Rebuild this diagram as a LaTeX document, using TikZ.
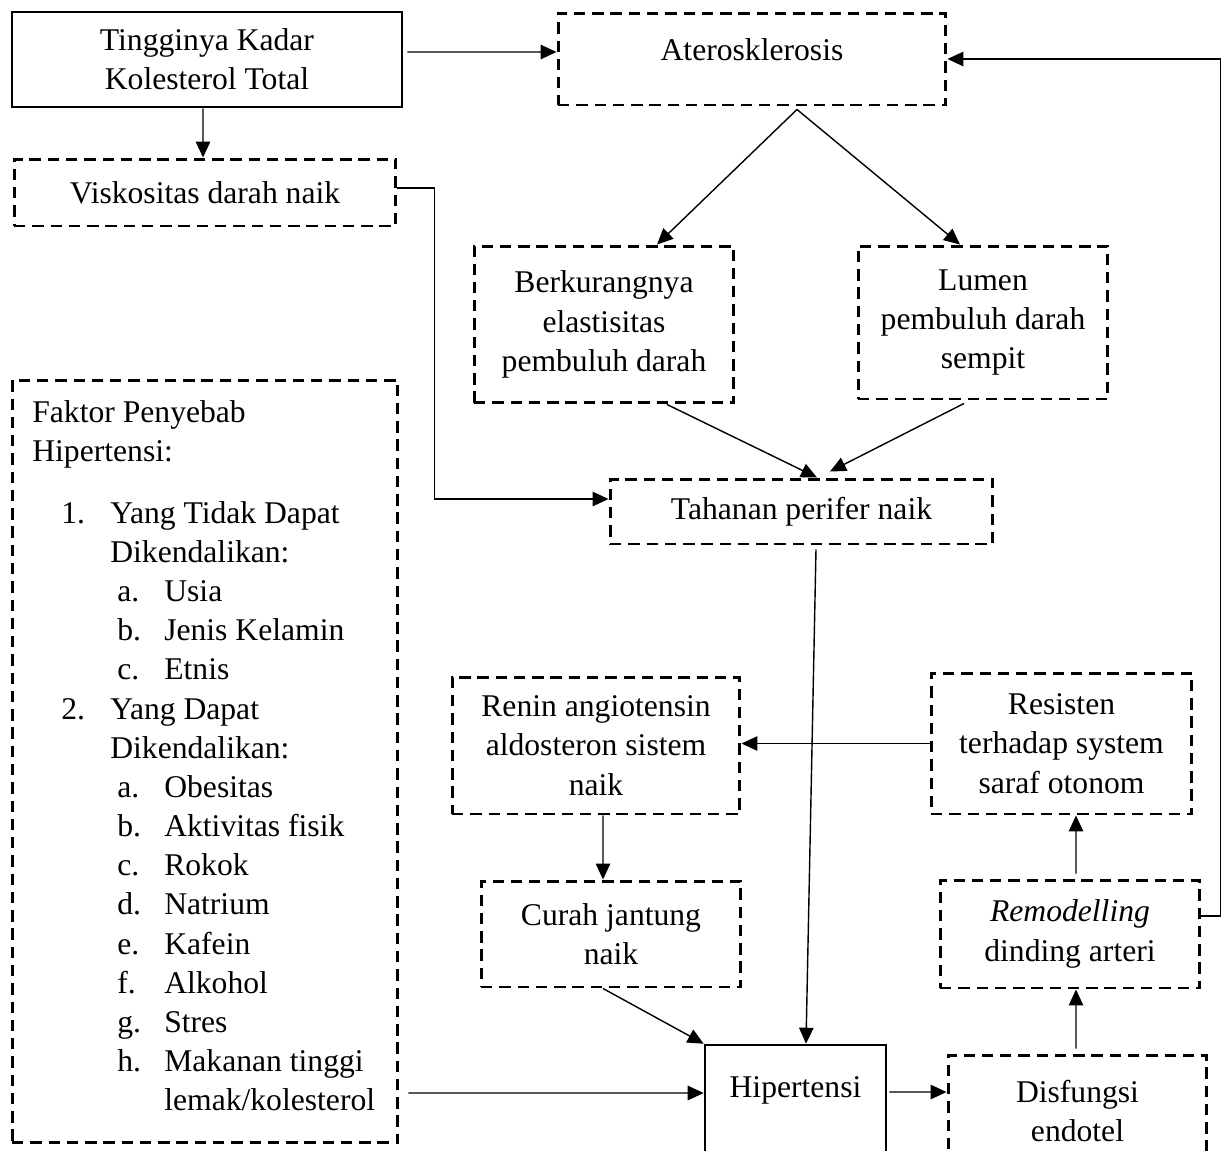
\documentclass[tikz,border=0pt]{standalone}
\usepackage{fontspec}
\setmainfont{Liberation Serif}
\usetikzlibrary{arrows.meta}
\begin{document}
\begin{tikzpicture}[x=0.02cm, y=-0.02cm,
    font=\fontsize{18}{22.3}\selectfont,
    box/.style={draw, rectangle, inner sep=0pt, align=center},
    solidbox/.style={box, line width=1.5pt},
    dashbox/.style={box, line width=1.7pt, dash pattern=on 6.5pt off 3.9pt},
    link/.style={->, line width=0.8pt},
    >={Triangle[length=3.2mm, width=2.9mm]}]
    \useasboundingbox (0,0) rectangle (1227,1150);

    % top row
    \node[solidbox, minimum width=7.8cm, minimum height=1.9cm] (kolesterol) at (207,59.5) {Tingginya Kadar\\Kolesterol Total};
    \node[dashbox, minimum width=7.76cm, text height=0.94cm, text depth=0.9cm] (ateros) at (752,59) {Aterosklerosis};
    \node[dashbox, minimum width=7.64cm, minimum height=1.34cm] (viskositas) at (205,192.5) {Viskositas darah naik};
    \node[dashbox, minimum width=5.2cm, minimum height=3.14cm] (berkurang) at (604,324.5) {Berkurangnya\\elastisitas\\pembuluh darah};
    \node[dashbox, minimum width=5cm, minimum height=3.06cm] (lumen) at (983,322.5) {Lumen\\pembuluh darah\\sempit};
    \node[dashbox, minimum width=7.66cm, minimum height=1.3cm] (tahanan) at (801.5,511.5) {Tahanan perifer naik};

    % faktor list
    \node[dashbox, minimum width=7.72cm, minimum height=15.26cm] (faktor) at (205,761.5) {};
    \node[anchor=north west, inner sep=0pt, align=left] (faktorlist) at (32,400) {Faktor Penyebab\\
        Hipertensi:\\[0.45cm]
        \hspace*{0.58cm}\makebox[0.98cm][l]{1.}Yang Tidak Dapat\\
        \hspace*{1.56cm}Dikendalikan:\\
        \hspace*{1.7cm}\makebox[0.94cm][l]{a.}Usia\\
        \hspace*{1.7cm}\makebox[0.94cm][l]{b.}Jenis Kelamin\\
        \hspace*{1.7cm}\makebox[0.94cm][l]{c.}Etnis\\
        \hspace*{0.58cm}\makebox[0.98cm][l]{2.}Yang Dapat\\
        \hspace*{1.56cm}Dikendalikan:\\
        \hspace*{1.7cm}\makebox[0.94cm][l]{a.}Obesitas\\
        \hspace*{1.7cm}\makebox[0.94cm][l]{b.}Aktivitas fisik\\
        \hspace*{1.7cm}\makebox[0.94cm][l]{c.}Rokok\\
        \hspace*{1.7cm}\makebox[0.94cm][l]{d.}Natrium\\
        \hspace*{1.7cm}\makebox[0.94cm][l]{e.}Kafein\\
        \hspace*{1.7cm}\makebox[0.94cm][l]{f.}Alkohol\\
        \hspace*{1.7cm}\makebox[0.94cm][l]{g.}Stres\\
        \hspace*{1.7cm}\makebox[0.94cm][l]{h.}Makanan tinggi\\
        \hspace*{2.64cm}lemak/kolesterol};

    % lower part
    \node[dashbox, minimum width=5.76cm, minimum height=2.74cm] (renin) at (596,745.5) {Renin angiotensin\\aldosteron sistem\\naik};
    \node[dashbox, minimum width=5.22cm, minimum height=2.82cm] (resisten) at (1061.5,743.5) {Resisten\\terhadap system\\saraf otonom};
    \node[dashbox, minimum width=5.2cm, minimum height=2.12cm] (curah) at (611,934) {Curah jantung\\naik};
    \node[dashbox, minimum width=5.2cm, minimum height=2.16cm] (remodel) at (1070,934) {\textit{Remodelling}\\dinding arteri};
    \node[solidbox, minimum width=3.62cm, text height=1.04cm, text depth=1.96cm] (hipertensi) at (795.5,1120) {Hipertensi};
    \node[dashbox, minimum width=5.18cm, minimum height=2.24cm] (disfungsi) at (1077.5,1111) {Disfungsi\\endotel};

    % arrows
    \draw[link, shorten <=0.08cm] ([yshift=0.15cm]kolesterol.east) -- ([yshift=0.14cm]ateros.west);
    \draw[link] ([xshift=-0.08cm]kolesterol.south) -- ([xshift=-0.04cm]viskositas.north);
    \draw[link] ([xshift=0.9cm, yshift=-0.06cm]ateros.south) -- ([xshift=1.06cm]berkurang.north);
    \draw[link] ([xshift=0.9cm, yshift=-0.06cm]ateros.south) -- ([xshift=-0.46cm]lumen.north);
    \draw[link] ([yshift=0.09cm]viskositas.east) -- ++(37,0) |- ([yshift=0.25cm]tahanan.west);
    \draw[link] ([xshift=1.26cm]berkurang.south) -- ([xshift=0.31cm]tahanan.north);
    \draw[link] ([xshift=-0.38cm, yshift=-0.06cm]lumen.south) -- ([xshift=0.57cm, yshift=0.12cm]tahanan.north);
    \draw[link] ([xshift=0.29cm, yshift=-0.08cm]tahanan.south) -- ([xshift=0.21cm]hipertensi.north);
    \draw[link] (resisten.west) -- (resisten.west -| renin.east);
    \draw[link] ([xshift=0.14cm]renin.south) -- ([xshift=-0.16cm]curah.north);
    \draw[link] ([xshift=-0.16cm]curah.south) -- (hipertensi.north west);
    \draw[link, shorten <=0.18cm] ([yshift=-6.63cm]faktor.east) -- ([yshift=0.54cm]hipertensi.west);
    \draw[link, shorten <=0.04cm] ([yshift=0.56cm]hipertensi.east) -- ([yshift=0.38cm]disfungsi.west);
    \draw[link] ([xshift=-0.03cm, yshift=0.1cm]disfungsi.north) -- ([xshift=0.12cm]remodel.south);
    \draw[link] ([xshift=0.12cm, yshift=0.1cm]remodel.north) -- ([xshift=0.29cm]resisten.south);
    \draw[link] ([yshift=0.36cm]remodel.east) -- ++(19,0) |- (ateros.east);
\end{tikzpicture}
\end{document}
